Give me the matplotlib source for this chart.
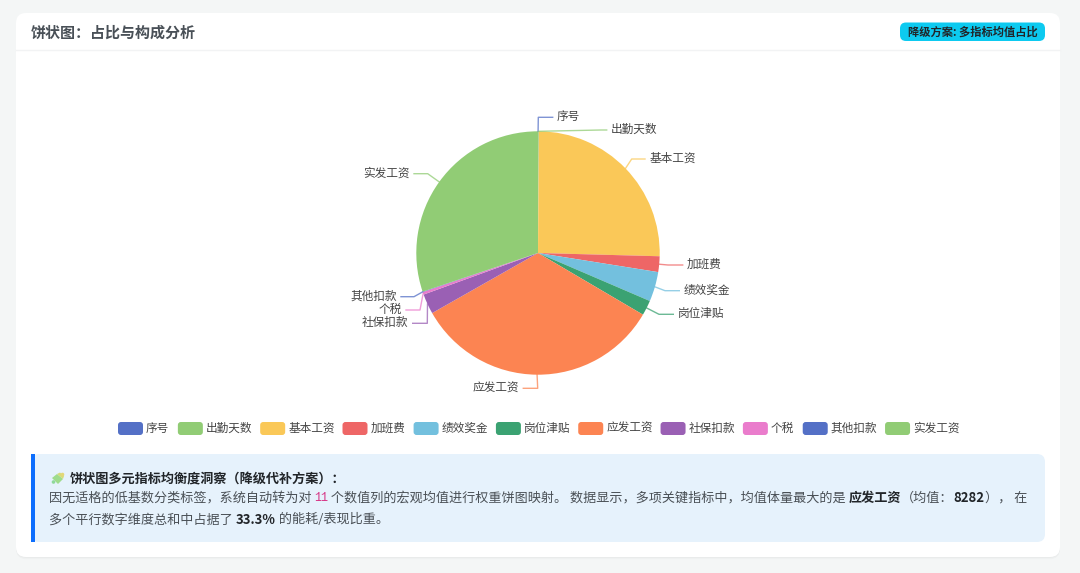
"""
plot.py
Tarjeta con gráfico de pastel (medias de columnas numéricas) y nota inferior.
"""

import matplotlib
matplotlib.use('Agg')
import matplotlib.pyplot as plt
from matplotlib.patches import FancyBboxPatch, Rectangle, Polygon, Circle
import numpy as np

plt.rcParams['font.family'] = ['Noto Sans CJK SC', 'DejaVu Sans']

# ============================================================================
# DATOS
# ============================================================================

categorias = ['序号', '出勤天数', '基本工资', '加班费', '绩效奖金', '岗位津贴',
              '应发工资', '社保扣款', '个税', '其他扣款', '实发工资']
valores = [6, 22, 6290, 518, 980, 497, 8282, 663, 85, 15, 7490]
colores = ['#5470c6', '#91cc75', '#fac858', '#ee6666', '#73c0de', '#3ba272',
           '#fc8452', '#9a60b4', '#ea7ccc', '#5470c6', '#91cc75']

titulo = '饼状图：占比与构成分析'
insignia = '降级方案: 多指标均值占比'
nota_titulo = '饼状图多元指标均衡度洞察（降级代补方案）：'

# Posición de cada etiqueta: codo de la guía, fin de la guía (píxeles)
guias = [((538.3, 117.3), (552.7, 117.3)),
         ((601.0, 130.0), (606.7, 130.0)),
         ((631.7, 159.0), (645.0, 159.0)),
         ((668.0, 265.0), (682.7, 265.0)),
         ((665.0, 290.7), (679.3, 290.7)),
         ((659.0, 314.3), (673.3, 314.3)),
         ((537.7, 388.3), (523.3, 388.3)),
         ((427.3, 323.3), (412.7, 323.3)),
         ((420.0, 310.0), (406.0, 310.0)),
         ((414.0, 296.7), (401.0, 296.7)),
         ((427.7, 173.7), (414.0, 173.7))]

W, H = 1080, 573
CX, CY, R = 538.0, 253.0, 121.7

fig = plt.figure(figsize=(W / 100, H / 100), dpi=100, facecolor='#f4f6f6')

# Capa de fondo en coordenadas de píxel
fondo = fig.add_axes([0, 0, 1, 1], zorder=0)
fondo.set_xlim(0, W)
fondo.set_ylim(H, 0)
fondo.axis('off')

for i in range(6, 0, -1):
    fondo.add_patch(FancyBboxPatch((16, 13 + i * 0.4), 1044, 544, boxstyle='round,pad=0,rounding_size=10',
                                   fc='#000000', ec='none', alpha=0.006))
fondo.add_patch(FancyBboxPatch((16, 13), 1044, 544, boxstyle='round,pad=0,rounding_size=10',
                               fc='white', ec='none'))
fondo.plot([16, 1060], [50, 50], color='#f2f3f4', lw=1)

fondo.text(31, 33, titulo, fontsize=10.8, fontweight='bold', color='#495057', va='center')

fondo.add_patch(FancyBboxPatch((900, 22.5), 145, 18.5, boxstyle='round,pad=0,rounding_size=6',
                               fc='#0dcaf0', ec='none'))
fondo.text(972.5, 32, insignia, fontsize=8.1, fontweight='bold', color='#212529',
           ha='center', va='center')

# ============================================================================
# PASTEL
# ============================================================================

lado = 130.0
ax = fig.add_axes([(CX - lado) / W, 1 - (CY + lado) / H, 2 * lado / W, 2 * lado / H], zorder=1)
ax.pie(valores, colors=colores, startangle=90, counterclock=False, radius=1,
       wedgeprops={'linewidth': 0})
ax.set_xlim(-lado / R, lado / R)
ax.set_ylim(-lado / R, lado / R)
ax.set_aspect('equal')

capa = fig.add_axes([0, 0, 1, 1], zorder=2)
capa.set_xlim(0, W)
capa.set_ylim(H, 0)
capa.axis('off')
capa.patch.set_alpha(0)

# Guías y etiquetas a partir del ángulo medio de cada porción
acum = np.cumsum(valores)
medios = (acum - np.array(valores) / 2) / acum[-1] * 2 * np.pi
for nombre, color, theta, (codo, fin) in zip(categorias, colores, medios, guias):
    x0 = CX + R * np.sin(theta)
    y0 = CY - R * np.cos(theta)
    capa.plot([x0, codo[0], fin[0]], [y0, codo[1], fin[1]], color=color, lw=1, alpha=0.75)
    if fin[0] >= codo[0]:
        capa.text(fin[0] + 4.2, fin[1] - 0.4, nombre, fontsize=8.4, color='#444444', ha='left', va='center')
    else:
        capa.text(fin[0] - 4.2, fin[1] - 0.4, nombre, fontsize=8.4, color='#444444', ha='right', va='center')

# ============================================================================
# LEYENDA
# ============================================================================

x_ley = 118.0
y_ley = 428.5
for nombre, color in zip(categorias, colores):
    capa.add_patch(FancyBboxPatch((x_ley, y_ley - 6.5), 25, 13, boxstyle='round,pad=0,rounding_size=3',
                                  fc=color, ec='none'))
    capa.text(x_ley + 28, y_ley - 0.3, nombre, fontsize=8.4, color='#444444', ha='left', va='center')
    x_ley += 37.4 + 11.23 * len(nombre)

# ============================================================================
# NOTA
# ============================================================================

capa.add_patch(FancyBboxPatch((31, 454), 1014, 88, boxstyle='round,pad=0,rounding_size=8',
                              fc='#e6f2fc', ec='none'))
capa.add_patch(Rectangle((31, 454), 4, 88, fc='#0d6efd', ec='none'))

# Pieza de puzle (el emoji no está en las fuentes instaladas)
capa.add_patch(Polygon([(52, 478), (57, 474), (63, 479), (58, 484)], fc='#9fdc8c', ec='none'))
capa.add_patch(Polygon([(57, 474), (60, 472.5), (64, 476), (63, 479)], fc='#d6dc7a', ec='none'))
capa.add_patch(Circle((62.5, 474.5), 1.8, fc='#e3d777', ec='none'))
capa.add_patch(Circle((53.5, 482), 1.8, fc='#8fd99a', ec='none'))

renderer = fig.canvas.get_renderer()


def escribir(x, y, trozos):
    """Escribe trozos de texto seguidos, cada uno con su propio estilo"""
    for trozo, estilo in trozos:
        t = capa.text(x, y, trozo, va='center', ha='left', **estilo)
        bb = t.get_window_extent(renderer)
        x += bb.width
    return x


normal = {'fontsize': 9.45, 'color': '#4a5056'}
negrita = {'fontsize': 9.45, 'color': '#212529', 'fontweight': 'bold'}
codigo = {'fontsize': 8.5, 'color': '#d63384', 'family': ['Liberation Mono', 'DejaVu Sans']}

escribir(70, 478.7, [(nota_titulo, negrita)])
escribir(49, 498.2, [('因无适格的低基数分类标签，系统自动转为对 ', normal), ('11', codigo),
                     (' 个数值列的宏观均值进行权重饼图映射。 数据显示，多项关键指标中，均值体量最大的是 ', normal),
                     ('应发工资', negrita), ('（均值：', normal), ('8282', negrita), ('）， 在', normal)])
escribir(49, 519.7, [('多个平行数字维度总和中占据了 ', normal), ('33.3%', negrita), (' 的能耗/表现比重。', normal)])

fig.savefig('out.png', dpi=100, facecolor=fig.get_facecolor())
plt.close(fig)
